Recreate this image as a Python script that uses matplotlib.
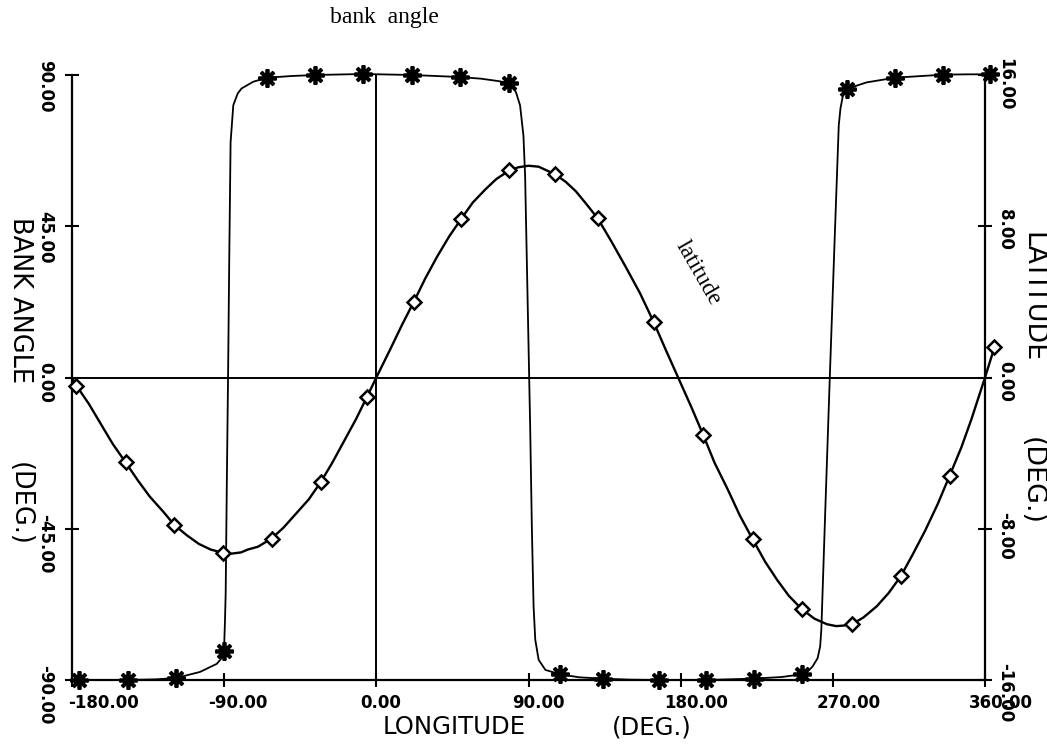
import matplotlib
matplotlib.use("Agg")
import matplotlib.pyplot as plt
from matplotlib import font_manager as fm
from matplotlib.transforms import blended_transform_factory, ScaledTranslation

# ---------------- data ----------------
x_ticks = [-180, -90, 0, 90, 180, 270, 360]
x_tick_labels = ["-180.00", "-90.00", "0.00", "90.00", "180.00", "270.00", "360.00"]
bank_ticks = [-90, -45, 0, 45, 90]
bank_tick_labels = ["-90.00", "-45.00", "0.00", "45.00", "90.00"]
lat_ticks = [-16, -8, 0, 8, 16]
lat_tick_labels = ["-16.00", "-8.00", "0.00", "8.00", "16.00"]

# bank angle markers (stars)
bank_marker_lon = [-176.1, -147.0, -118.4, -90.1, -64.5, -36.2, -7.9, 21.3, 49.2, 78.7,
                   108.7, 134.0, 166.9, 194.9, 223.2, 251.5, 278.4, 306.8, 335.3, 363.0]
bank_marker_val = [-90.0, -90.0, -89.4, -81.5, 89.2, 90.0, 90.3, 90.0, 89.4, 87.6,
                   -88.3, -89.6, -90.0, -90.0, -89.6, -88.3, 85.9, 89.2, 90.1, 90.2]

# bank angle curve
bank_curve_lon = [-180, -176.1, -147.0, -130, -118.4, -104.3, -94.4, -91.5, -90.1, -89.5,
                  -89.1, -88.4, -87.7, -87.0, -86.2, -84.6, -82.0, -79.7, -72.8, -64.5,
                  -50, -36.2, -7.9, 21.3, 49.2, 62, 72, 78.7, 82.5, 85.0,
                  87.0, 88.0, 89.0, 90.0, 91.0, 92.0, 93.0, 94.0, 96.0, 100.0,
                  108.7, 120, 134.0, 150, 166.9, 194.9, 223.2, 240, 251.5, 255,
                  258, 261, 262.5, 263.2, 265.5, 268.2, 271, 273.5, 274.5, 276,
                  278.4, 290, 306.8, 335.3, 350, 363.0]
bank_curve_val = [-90, -90, -90, -89.8, -89.4, -87.6, -85.2, -83.5, -81.5, -72,
                  -64, -30, 0, 35, 70, 81, 84.5, 86, 88, 89.2,
                  89.7, 90.0, 90.3, 90.0, 89.4, 88.9, 88.2, 87.6, 85.0, 81,
                  72, 60, 35, 10, -15, -45, -68, -78, -84, -87,
                  -88.3, -89.2, -89.6, -89.9, -90, -90, -89.6, -89.1, -88.3, -87.5,
                  -86, -83.5, -80, -75, -40, 0, 40, 75, 80, 84,
                  85.9, 87.8, 89.2, 90.1, 90.2, 90.2]

# latitude markers (diamonds)
lat_marker_lon = [-177.4, -148.3, -119.4, -90.5, -62.0, -33.0, -5.5, 22.2, 50.2, 78.7,
                  105.7, 131.0, 164.1, 193.3, 222.6, 251.5, 281.4, 310.2, 339.1, 365.6]
lat_marker_val = [-0.43, -4.49, -7.81, -9.28, -8.52, -5.55, -1.02, 4.01, 8.39, 10.95,
                  10.75, 8.41, 2.92, -3.03, -8.56, -12.24, -13.04, -10.51, -5.19, 1.6]

# latitude curve
lat_curve_lon = [-180, -177.4, -170, -163, -156, -148.3, -141, -134, -126, -119.4,
                 -112, -105, -98, -90.5, -86, -80, -76, -70, -62.0, -55,
                 -47.5, -40, -33.0, -26, -19, -12, -5.5, 0, 8, 15,
                 22.2, 29, 36, 43, 50.2, 57, 64.5, 71, 78.7, 84,
                 90, 96, 105.7, 112, 118, 124, 131.0, 139, 147.5, 156,
                 164.1, 171, 178.5, 186, 193.3, 200, 208, 215, 222.6, 230,
                 237, 244, 251.5, 259, 266.5, 272, 276.5, 281.4, 288, 296,
                 303, 310.2, 317, 324.6, 332, 339.1, 346, 352, 356, 360,
                 365.6]
lat_curve_val = [0.0, -0.43, -1.4, -2.45, -3.5, -4.49, -5.45, -6.3, -7.1, -7.81,
                 -8.35, -8.8, -9.1, -9.28, -9.32, -9.25, -9.1, -8.95, -8.52, -7.95,
                 -7.2, -6.45, -5.55, -4.5, -3.35, -2.2, -1.02, 0.0, 1.45, 2.75,
                 4.01, 5.25, 6.4, 7.45, 8.39, 9.25, 9.95, 10.5, 10.95, 11.12,
                 11.2, 11.15, 10.75, 10.35, 9.85, 9.2, 8.41, 7.2, 5.85, 4.45,
                 2.92, 1.5, 0.0, -1.5, -3.03, -4.5, -5.95, -7.3, -8.56, -9.75,
                 -10.7, -11.55, -12.24, -12.75, -13.05, -13.15, -13.12, -13.04, -12.7, -12.1,
                 -11.4, -10.51, -9.4, -8.1, -6.7, -5.19, -3.7, -2.2, -1.1, 0.0,
                 1.6]

# ---------------- fonts ----------------
names = {f.name for f in fm.fontManager.ttflist}
if "Liberation Sans Narrow" in names:
    SANS, K = "Liberation Sans Narrow", 1.0
else:
    SANS, K = "DejaVu Sans", 0.8
SERIF = "Liberation Serif" if "Liberation Serif" in names else "DejaVu Serif"

W, H = 1047, 745
fig = plt.figure(figsize=(W / 100, H / 100), dpi=100)
L, R, T, B = 72, 985, 75, 680
ax = fig.add_axes([L / W, 1 - B / H, (R - L) / W, (B - T) / H])
ax.set_xlim(-180, 360)
ax.set_ylim(-90, 90)
ax2 = ax.twinx()
ax2.set_ylim(-16, 16)

ax.spines["top"].set_visible(False)
for s in ax2.spines:
    ax2.spines[s].set_visible(False)
for s in ["left", "bottom", "right"]:
    ax.spines[s].set_linewidth(1.6)

ax.set_xticks(x_ticks)
ax.set_yticks(bank_ticks)
ax2.set_yticks(lat_ticks)
ax.tick_params(axis="both", direction="inout", length=10, width=1.5,
               labelbottom=False, labelleft=False, right=False)
ax2.tick_params(axis="y", direction="inout", length=10, width=1.5, labelright=False)

ax.axhline(0, color="black", lw=1.4, zorder=1)
ax.axvline(0, color="black", lw=1.4, zorder=1)

ax.plot(bank_curve_lon, bank_curve_val, color="black", lw=1.3, clip_on=False, zorder=2)
ax.plot(bank_marker_lon, bank_marker_val, linestyle="none", marker=(8, 2, 0),
        ms=13, mew=2.7, color="black", clip_on=False, zorder=4)
ax2.plot(lat_curve_lon, lat_curve_val, color="black", lw=1.7, clip_on=False, zorder=2)
ax2.plot(lat_marker_lon, lat_marker_val, linestyle="none", marker="D", ms=7,
         mew=1.8, mfc="white", mec="black", clip_on=False, zorder=4)

px = lambda n: n / 100.0  # pixel -> inch
fs_tick = 15 * K

# left tick labels
tl = blended_transform_factory(ax.transAxes, ax.transData) + ScaledTranslation(0, px(15), fig.dpi_scale_trans)
for v, lab in zip(bank_ticks, bank_tick_labels):
    ax.text((45 - L) / (R - L), v, lab, rotation=-90, ha="center", va="top",
            transform=tl, fontsize=fs_tick, family=SANS, weight="bold", clip_on=False)

# right tick labels
tr = blended_transform_factory(ax2.transAxes, ax2.transData) + ScaledTranslation(0, px(17), fig.dpi_scale_trans)
for v, lab in zip(lat_ticks, lat_tick_labels):
    ax2.text((1005 - L) / (R - L), v, lab, rotation=-90, ha="center", va="top",
             transform=tr, fontsize=fs_tick, family=SANS, weight="bold", clip_on=False)

# bottom tick labels
for v, lab in zip(x_ticks, x_tick_labels):
    off = -4 if v == x_ticks[0] else -16
    tb = blended_transform_factory(ax.transData, ax.transAxes) + ScaledTranslation(px(off), 0, fig.dpi_scale_trans)
    ax.text(v, -(694 - B) / (B - T), lab, ha="left", va="top", transform=tb,
            fontsize=fs_tick, family=SANS, weight="bold", clip_on=False)

# axis labels
fs_lab = 22 * K
fig.text(454 / W, 1 - 727 / H, "LONGITUDE", ha="center", va="center", fontsize=fs_lab, family=SANS)
fig.text(652 / W, 1 - 727 / H, "(DEG.)", ha="center", va="center", fontsize=fs_lab, family=SANS)
fig.text(20 / W, 1 - 300 / H, "BANK ANGLE", ha="center", va="center", rotation=-90, fontsize=fs_lab * 1.05, family=SANS)
fig.text(20 / W, 1 - 504 / H, "(DEG.)", ha="center", va="center", rotation=-90, fontsize=fs_lab * 1.05, family=SANS)
fig.text(1032 / W, 1 - 297 / H, "LATITUDE", ha="center", va="center", rotation=-90, fontsize=fs_lab * 1.1, family=SANS)
fig.text(1032 / W, 1 - 481 / H, "(DEG.)", ha="center", va="center", rotation=-90, fontsize=fs_lab * 1.1, family=SANS)

# annotations
fig.text(384 / W, 1 - 18 / H, "bank  angle", ha="center", va="center", fontsize=17, family=SERIF)
ax.text(190, 31, "latitude", rotation=-60, ha="center", va="center", fontsize=17, family=SERIF)

fig.savefig("out.png", dpi=100)
